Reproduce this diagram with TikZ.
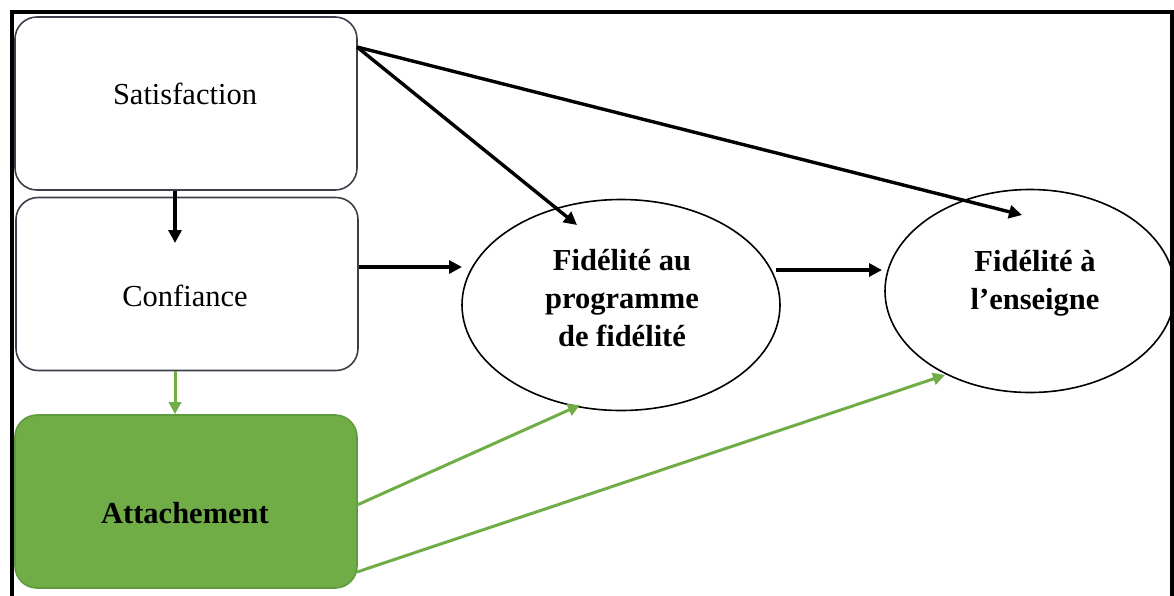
\documentclass[tikz,border=0pt]{standalone}
\usepackage{fontspec}
\setmainfont{Liberation Serif}
\usetikzlibrary{arrows.meta,shapes.geometric}
\definecolor{grn}{HTML}{70AD47}
\definecolor{grnd}{HTML}{5E9B3B}
\definecolor{bord}{HTML}{3A3F4A}
\begin{document}
\begin{tikzpicture}[x=1pt,y=-1pt,
  box/.style={draw=bord, line width=1.6pt, rounded corners=22pt, minimum width=342pt, minimum height=173pt, inner sep=0pt},
  ell/.style={ellipse, draw, line width=1.6pt, inner sep=0pt},
  lbl/.style={font=\fontsize{30.5}{38}\selectfont, align=center},
  blbl/.style={font=\fontsize{30.5}{38}\selectfont\bfseries, align=center},
  blk/.style={line width=3.4pt, -{Triangle[length=13pt,width=13pt]}},
  gar/.style={grn, line width=3pt, -{Triangle[length=12pt,width=12pt]}}]
\useasboundingbox (0,0) rectangle (1174,595);
\draw[line width=3.5pt] (12,600) -- (12,12) -- (1172,12) -- (1172,600);
% boxes
\node[box] (sat) at (186,103.5) {};
\node[box] (conf) at (187,284) {};
\node[box, fill=grn, draw=grnd] (att) at (186,501.5) {};
\node[lbl] (tsat) at (185,94) {Satisfaction};
\node[lbl] (tconf) at (185,296) {Confiance};
\node[blbl] (tatt) at (185,513) {Attachement};
% ellipses
\node[ell, minimum width=318pt, minimum height=211pt] (e1) at (621,305) {};
\node[ell, minimum width=290pt, minimum height=203pt] (e2) at (1030,291) {};
\node[blbl] (te1) at (622,298) {Fidélité au\\programme\\de fidélité};
\node[blbl] (te2) at (1035,283) {Fidélité à\\l’enseigne};
% coordinates
\coordinate (s1) at (357,47);
\coordinate (p1) at (577,225);
\coordinate (p2) at (1022,215);
\coordinate (c1) at (175,243);
\coordinate (cx) at (175,0);
\coordinate (q1) at (462,267);
\coordinate (r0) at (776,270);
\coordinate (r1) at (882,270);
\coordinate (a1) at (357,505);
\coordinate (g1) at (580,405);
\coordinate (a2) at (357,572);
\coordinate (g2) at (945,375);
% black arrows
\draw[blk] (s1) -- (p1);
\draw[blk] (s1) -- (p2);
\draw[blk] (sat.south -| cx) -- (c1);
\draw[blk] (conf.east |- q1) -- (q1);
\draw[blk] (r0) -- (r1);
% green arrows
\draw[gar] (conf.south -| cx) -- (att.north -| cx);
\draw[gar] (a1) -- (g1);
\draw[gar] (a2) -- (g2);
\end{tikzpicture}
\end{document}
